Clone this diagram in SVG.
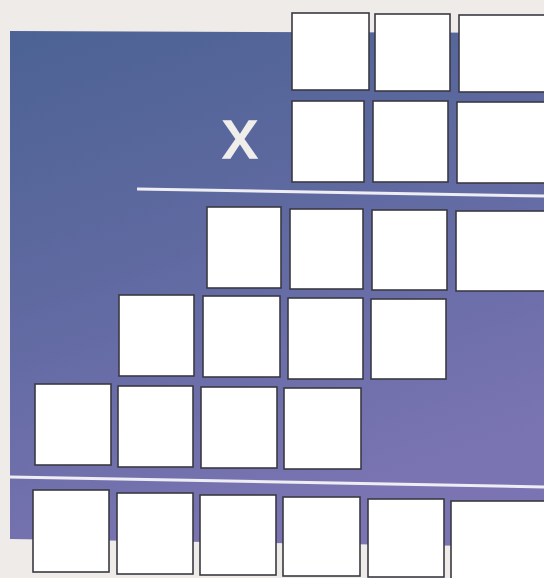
<svg xmlns="http://www.w3.org/2000/svg" width="544" height="578" viewBox="0 0 544 578">
<defs>
<linearGradient id="bg" x1="0" y1="0" x2="0.35" y2="1">
<stop offset="0" stop-color="#4c6294"/>
<stop offset="0.45" stop-color="#5e69a0"/>
<stop offset="1" stop-color="#7a74b2"/>
</linearGradient>
<style>
.box{fill:#ffffff;stroke:#3a3a42;stroke-width:1.6}
.rule{stroke:#eeeef2;stroke-width:3;fill:none}
.op{font-family:"Liberation Sans",Arial,sans-serif;font-size:70px;fill:#f0eeea;stroke:#f0eeea;stroke-width:1.6}
</style>
</defs>
<rect x="0" y="0" width="544" height="578" fill="#eeebe8"/>
<path d="M10 31 L544 33 L544 547 L10 539 Z" fill="url(#bg)"/>
<g id="operator"><text class="op" x="240" y="158" text-anchor="middle">x</text></g>
<g id="rules">
<line class="rule" x1="137" y1="189" x2="544" y2="196"/>
<line class="rule" x1="10" y1="477" x2="544" y2="487"/>
</g>
<g id="row1">
<rect id="r1c1" class="box" x="292" y="13" width="77" height="77"/>
<rect id="r1c2" class="box" x="375" y="14" width="75" height="77"/>
<rect id="r1c3" class="box" x="459" y="15" width="90" height="77"/>
</g>
<g id="row2">
<rect id="r2c1" class="box" x="292" y="101" width="72" height="81"/>
<rect id="r2c2" class="box" x="373" y="101" width="75" height="81"/>
<rect id="r2c3" class="box" x="457" y="102" width="90" height="81"/>
</g>
<g id="row3">
<rect id="r3c1" class="box" x="207" y="207" width="74" height="81"/>
<rect id="r3c2" class="box" x="290" y="209" width="73" height="80"/>
<rect id="r3c3" class="box" x="372" y="210" width="75" height="80"/>
<rect id="r3c4" class="box" x="456" y="211" width="90" height="80"/>
</g>
<g id="row4">
<rect id="r4c1" class="box" x="119" y="295" width="75" height="81"/>
<rect id="r4c2" class="box" x="203" y="296" width="77" height="81"/>
<rect id="r4c3" class="box" x="288" y="298" width="75" height="81"/>
<rect id="r4c4" class="box" x="371" y="299" width="75" height="80"/>
</g>
<g id="row5">
<rect id="r5c1" class="box" x="35" y="384" width="76" height="81"/>
<rect id="r5c2" class="box" x="118" y="386" width="75" height="81"/>
<rect id="r5c3" class="box" x="201" y="387" width="76" height="81"/>
<rect id="r5c4" class="box" x="284" y="388" width="77" height="81"/>
</g>
<g id="row6">
<rect id="r6c1" class="box" x="33" y="490" width="76" height="82"/>
<rect id="r6c2" class="box" x="117" y="493" width="76" height="81"/>
<rect id="r6c3" class="box" x="200" y="495" width="76" height="80"/>
<rect id="r6c4" class="box" x="283" y="497" width="77" height="79"/>
<rect id="r6c5" class="box" x="368" y="499" width="76" height="78"/>
<rect id="r6c6" class="box" x="451" y="501" width="95" height="78"/>
</g>
<g id="connectors"/>
</svg>
